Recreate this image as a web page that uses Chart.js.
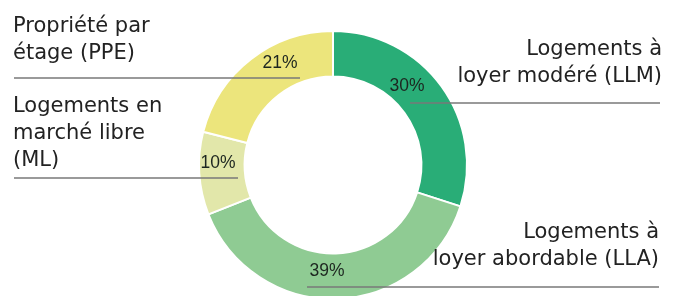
<!DOCTYPE html>
<html>
<head>
<meta charset="utf-8">
<script src="https://cdn.jsdelivr.net/npm/chart.js@4"></script>
<style>
  html, body { margin: 0; padding: 0; background: #ffffff; overflow: hidden; }
  #wrap { position: relative; width: 674px; height: 300px; }
</style>
</head>
<body>
<div id="wrap"><canvas id="c"></canvas></div>
<script>
// ---- Data ----
const categories = [
  ['Logements à', 'loyer modéré (LLM)'],
  ['Logements à', 'loyer abordable (LLA)'],
  ['Logements en', 'marché libre', '(ML)'],
  ['Propriété par', 'étage (PPE)']
];
const shares = [30, 39, 10, 21];
const pctLabels = ['30%', '39%', '10%', '21%'];
const colors = ['#29ad77', '#8fcb93', '#e2e7aa', '#ece57c'];

// ---- Annotation layout (text blocks, leader lines, percent labels) ----
const annot = [
  { align: 'right', tx: 662, ty: 55,  ly: 103, lx1: 410, lx2: 660, px: 407, py: 86 },
  { align: 'right', tx: 659, ty: 238, ly: 287, lx1: 307, lx2: 659, px: 327, py: 271 },
  { align: 'left',  tx: 13,  ty: 112, ly: 178, lx1: 14,  lx2: 238, px: 218, py: 163 },
  { align: 'left',  tx: 13,  ty: 32,  ly: 78,  lx1: 14,  lx2: 300, px: 280, py: 63 }
];

const annotPlugin = {
  id: 'annot',
  afterDatasetsDraw(chart) {
    const ctx = chart.ctx;
    ctx.save();
    annot.forEach((a, i) => {
      // leader line
      ctx.strokeStyle = 'rgba(120,120,120,0.75)';
      ctx.lineWidth = 2;
      ctx.beginPath();
      ctx.moveTo(a.lx1, a.ly);
      ctx.lineTo(a.lx2, a.ly);
      ctx.stroke();
      // category text
      ctx.fillStyle = '#222222';
      ctx.font = '400 21px "DejaVu Sans", sans-serif';
      ctx.textAlign = a.align;
      ctx.textBaseline = 'alphabetic';
      categories[i].forEach((line, k) => {
        ctx.fillText(line, a.tx, a.ty + k * 27);
      });
      // percent
      ctx.fillStyle = '#1d2620';
      ctx.font = '400 17.5px "Liberation Sans", Roboto, sans-serif';
      ctx.textAlign = 'center';
      ctx.textBaseline = 'middle';
      ctx.fillText(pctLabels[i], a.px, a.py);
    });
    ctx.restore();
  }
};

new Chart(document.getElementById('c'), {
  type: 'doughnut',
  data: {
    labels: categories.map(c => c.join(' ')),
    datasets: [{
      data: shares,
      backgroundColor: colors,
      borderColor: '#ffffff',
      borderWidth: 2,
      hoverOffset: 0
    }]
  },
  options: {
    responsive: true,
    maintainAspectRatio: false,
    animation: false,
    cutout: '66%',
    layout: { padding: { top: 30, bottom: 0, left: 0, right: 8 } },
    plugins: {
      legend: { display: false },
      tooltip: { enabled: false }
    }
  },
  plugins: [annotPlugin]
});
</script>
</body>
</html>
